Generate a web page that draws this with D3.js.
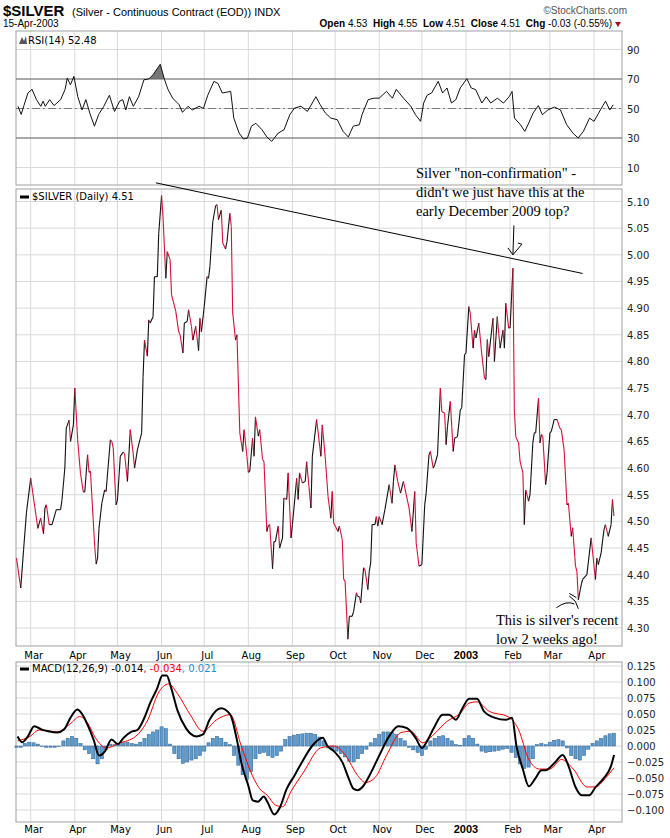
<!DOCTYPE html>
<html><head><meta charset="utf-8">
<script src="https://cdn.jsdelivr.net/npm/d3@7"></script>
<style>body{margin:0;background:#fff}</style>
</head><body><div id="chart"></div>
<script>
// price closes (date, close)
const priceDates = ["2002-02-19","2002-02-22","2002-02-24","2002-02-26","2002-03-01","2002-03-06","2002-03-08","2002-03-10","2002-03-11","2002-03-12","2002-03-14","2002-03-16","2002-03-19","2002-03-22","2002-03-23","2002-03-25","2002-03-26","2002-03-28","2002-03-29","2002-03-31",
"2002-04-01","2002-04-03","2002-04-05","2002-04-07","2002-04-08","2002-04-10","2002-04-11","2002-04-12","2002-04-15","2002-04-16","2002-04-17","2002-04-18","2002-04-20","2002-04-22","2002-04-23","2002-04-26","2002-04-27","2002-04-28","2002-04-30",
"2002-05-01","2002-05-03","2002-05-05","2002-05-06","2002-05-08","2002-05-10","2002-05-12","2002-05-13","2002-05-15","2002-05-18","2002-05-19","2002-05-20","2002-05-22","2002-05-23","2002-05-24","2002-05-26","2002-05-27","2002-05-29","2002-05-30",
"2002-06-01","2002-06-02","2002-06-04","2002-06-05","2002-06-07","2002-06-08","2002-06-11","2002-06-13","2002-06-14","2002-06-16","2002-06-17","2002-06-19","2002-06-20","2002-06-22","2002-06-23","2002-06-25","2002-06-27","2002-06-28","2002-06-29",
"2002-07-01","2002-07-03","2002-07-04","2002-07-05","2002-07-07","2002-07-09","2002-07-10","2002-07-11","2002-07-13","2002-07-14","2002-07-16","2002-07-17","2002-07-19","2002-07-20","2002-07-21","2002-07-23","2002-07-24","2002-07-26","2002-07-28","2002-07-29","2002-07-31",
"2002-08-01","2002-08-02","2002-08-04","2002-08-05","2002-08-06","2002-08-08","2002-08-09","2002-08-11","2002-08-12","2002-08-14","2002-08-15","2002-08-16","2002-08-18","2002-08-19","2002-08-20","2002-08-22","2002-08-23","2002-08-25","2002-08-26","2002-08-28","2002-08-29","2002-08-31",
"2002-09-01","2002-09-04","2002-09-05","2002-09-06","2002-09-08","2002-09-10","2002-09-11","2002-09-14","2002-09-15","2002-09-18","2002-09-21","2002-09-22","2002-09-24","2002-09-26","2002-09-28","2002-09-29","2002-09-30",
"2002-10-03","2002-10-04","2002-10-06","2002-10-07","2002-10-08","2002-10-10","2002-10-11","2002-10-13","2002-10-14","2002-10-16","2002-10-17","2002-10-18","2002-10-19","2002-10-21","2002-10-22","2002-10-24","2002-10-25","2002-10-26","2002-10-27","2002-10-29","2002-10-30","2002-10-31",
"2002-11-01","2002-11-03","2002-11-05","2002-11-08","2002-11-10","2002-11-11","2002-11-12","2002-11-14","2002-11-16","2002-11-18","2002-11-20","2002-11-22","2002-11-24","2002-11-26","2002-11-27","2002-11-29",
"2002-12-01","2002-12-03","2002-12-04","2002-12-06","2002-12-07","2002-12-09","2002-12-10","2002-12-12","2002-12-14","2002-12-15","2002-12-17","2002-12-18","2002-12-19","2002-12-21","2002-12-23","2002-12-24","2002-12-26","2002-12-28","2002-12-29","2002-12-31",
"2003-01-01","2003-01-03","2003-01-04","2003-01-06","2003-01-07","2003-01-08","2003-01-10","2003-01-12","2003-01-14","2003-01-15","2003-01-16","2003-01-17","2003-01-20","2003-01-21","2003-01-23","2003-01-24","2003-01-25","2003-01-27","2003-01-28","2003-01-29","2003-01-31",
"2003-02-01","2003-02-03","2003-02-04","2003-02-05","2003-02-07","2003-02-08","2003-02-10","2003-02-11","2003-02-12","2003-02-14","2003-02-15","2003-02-17","2003-02-18","2003-02-19","2003-02-21","2003-02-22","2003-02-23","2003-02-24","2003-02-26","2003-02-27",
"2003-03-01","2003-03-02","2003-03-04","2003-03-06","2003-03-08","2003-03-09","2003-03-11","2003-03-13","2003-03-14","2003-03-16","2003-03-17","2003-03-19","2003-03-20","2003-03-21","2003-03-23","2003-03-24","2003-03-27","2003-03-30",
"2003-04-02","2003-04-03","2003-04-04","2003-04-06","2003-04-08","2003-04-09","2003-04-11","2003-04-13","2003-04-14","2003-04-15"];
const priceClose = [4.431,4.375,4.447,4.516,4.581,4.487,4.506,4.477,4.525,4.531,4.494,4.494,4.522,4.522,4.54,4.60,4.675,4.69,4.65,4.681,
4.75,4.653,4.59,4.555,4.555,4.625,4.592,4.594,4.453,4.42,4.431,4.487,4.534,4.559,4.556,4.653,4.65,4.638,4.531,
4.54,4.622,4.63,4.627,4.575,4.672,4.628,4.60,4.634,4.666,4.772,4.84,4.81,4.878,4.872,4.884,4.959,4.959,5.04,
5.111,5.072,4.956,5.006,4.991,4.925,4.894,4.856,4.85,4.816,4.872,4.875,4.897,4.866,4.84,4.866,4.82,4.881,4.856,
4.903,4.959,4.956,4.978,5.062,5.092,5.094,5.066,5.084,5.022,5.011,5.025,5.078,5.053,4.891,4.84,4.85,4.666,4.631,4.672,4.622,
4.592,4.594,4.656,4.622,4.696,4.66,4.672,4.616,4.612,4.481,4.492,4.494,4.411,4.462,4.462,4.491,4.45,4.469,4.544,4.541,4.591,4.469,
4.494,4.581,4.541,4.591,4.572,4.575,4.612,4.525,4.622,4.691,4.622,4.681,4.622,4.547,4.506,4.556,4.497,
4.481,4.491,4.466,4.391,4.388,4.279,4.322,4.322,4.331,4.366,4.359,4.359,4.347,4.413,4.409,4.372,4.406,4.422,4.494,4.494,4.509,4.491,
4.509,4.494,4.522,4.569,4.534,4.575,4.606,4.575,4.553,4.575,4.55,4.525,4.481,4.556,4.459,4.416,
4.419,4.531,4.553,4.625,4.631,4.60,4.606,4.625,4.75,4.706,4.703,4.644,4.678,4.725,4.631,4.656,4.659,4.709,4.713,4.813,
4.816,4.903,4.891,4.825,4.859,4.844,4.872,4.816,4.769,4.766,4.841,4.809,4.881,4.80,4.884,4.853,4.825,4.859,4.825,4.909,4.863,
4.863,4.975,4.709,4.659,4.647,4.613,4.591,4.494,4.559,4.538,4.55,4.647,4.666,4.666,4.731,4.647,4.663,4.659,4.569,4.591,
4.666,4.669,4.691,4.691,4.675,4.672,4.634,4.531,4.534,4.472,4.488,4.416,4.406,4.353,4.381,4.391,4.40,4.469,
4.391,4.431,4.419,4.441,4.484,4.494,4.472,4.494,4.541,4.51];

// indicator series: time in months after 1 Mar 2002 (fraction of the month)
const rsiT = [-0.32,-0.24,-0.17,-0.07,0.03,0.13,0.23,0.28,0.33,0.43,0.53,0.68,0.78,0.83,0.90,0.98,1.07,1.17,1.26,1.35,1.46,1.56,1.68,1.81,1.93,2.05,2.12,2.19,2.27,2.36,2.48,2.60,2.71,2.81,2.97,3.07,3.15,3.26,3.41,3.49,3.62,3.72,3.88,3.98,4.08,4.22,4.31,4.41,4.60,4.67,4.79,4.89,4.98,5.07,5.17,5.31,5.42,5.53,5.68,5.81,5.94,6.05,6.20,6.35,6.55,6.65,6.77,6.90,7.05,7.18,7.30,7.41,7.55,7.61,7.75,7.88,8.0,8.17,8.31,8.40,8.57,8.74,8.85,8.97,9.04,9.12,9.22,9.37,9.47,9.57,9.67,9.77,9.87,10.02,10.12,10.22,10.36,10.46,10.56,10.71,10.85,10.98,11.05,11.11,11.26,11.37,11.47,11.58,11.71,11.81,11.95,12.10,12.24,12.38,12.52,12.64,12.76,12.90,13.0,13.15,13.27,13.37,13.45];
const rsiVal = [51.5,46,52,60.5,63,56,51.5,55,51.5,56,52,56,63,70.7,66,71.8,58,49,56,47,38,46,51.5,59,48,55,56,49,58,51.5,58,69.5,70,73,80,69.5,63,57,52.6,47.4,51.5,49,51.5,50,59,68.4,67,60.5,61.6,43.5,33.4,29.3,30,38,40,35.6,30.7,27.7,33.4,35.6,45.8,50.3,51.5,48,58,52.6,47,43.5,42.4,34.5,30.7,38,39,45.8,56,57,57,61.6,57,63,57,51.5,45.8,41.3,53.7,59,60.5,68.4,60.5,63.9,53.7,56,63.9,70.2,63.9,62.8,53.7,58,53.7,57,53.7,58,61.6,43.5,39,34.5,40.2,47,52,45.8,49,51,49,39,33.4,30,34.5,43.5,41.3,49,55,49,52.48];

const macdT = [-0.33,-0.21,-0.07,0.08,0.24,0.40,0.60,0.76,0.90,1.06,1.16,1.30,1.44,1.57,1.71,1.86,2.01,2.14,2.31,2.45,2.59,2.74,2.90,3.02,3.12,3.22,3.37,3.57,3.82,3.97,4.12,4.38,4.59,4.74,4.84,5.0,5.10,5.22,5.35,5.43,5.59,5.71,5.87,6.05,6.26,6.46,6.71,6.82,6.97,7.17,7.31,7.42,7.51,7.62,7.78,8.0,8.23,8.45,8.65,8.85,9.0,9.12,9.27,9.47,9.62,9.77,9.92,10.07,10.25,10.41,10.66,10.90,11.05,11.16,11.32,11.47,11.63,11.79,11.89,12.11,12.29,12.42,12.58,12.72,12.89,13.04,13.22,13.40,13.47];
const macdVal = [0.015,0.006,0.015,0.031,0.026,0.023,0.021,0.026,0.044,0.057,0.051,0.033,0.010,-0.015,-0.008,0.010,0.003,0.013,0.022,0.025,0.041,0.067,0.090,0.110,0.110,0.092,0.056,0.028,0.015,0.018,0.041,0.059,0.049,0.010,-0.026,-0.062,-0.085,-0.087,-0.079,-0.087,-0.107,-0.097,-0.067,-0.046,-0.021,0,0.013,0,-0.008,-0.026,-0.051,-0.067,-0.069,-0.064,-0.046,-0.015,0.015,0.031,0.028,0.013,-0.003,0.008,0.028,0.049,0.049,0.041,0.059,0.074,0.074,0.054,0.044,0.041,0.044,0,-0.036,-0.063,-0.051,-0.038,-0.038,-0.026,-0.014,-0.031,-0.064,-0.077,-0.077,-0.064,-0.051,-0.031,-0.014];
const signalT = [-0.33,-0.02,0.19,0.60,0.92,1.11,1.30,1.48,1.75,2.03,2.41,2.69,2.92,3.17,3.37,3.67,3.97,4.28,4.59,4.84,5.09,5.26,5.43,5.61,5.78,5.96,6.26,6.66,6.97,7.24,7.51,7.69,7.91,8.17,8.51,8.74,9.02,9.27,9.56,9.87,10.07,10.25,10.53,10.95,11.21,11.47,11.74,12.0,12.26,12.53,12.84,13.04,13.26,13.47];
const signalVal = [0.008,0.015,0.025,0.022,0.036,0.046,0.036,0.013,-0.003,0.004,0.015,0.041,0.082,0.097,0.082,0.049,0.023,0.041,0.049,0,-0.046,-0.067,-0.077,-0.092,-0.095,-0.072,-0.041,-0.003,0,-0.015,-0.046,-0.057,-0.049,-0.015,0.021,0.023,0.005,0.018,0.038,0.051,0.067,0.069,0.054,0.046,0.026,-0.021,-0.036,-0.036,-0.021,-0.036,-0.064,-0.064,-0.051,-0.034];
// histogram, evenly spaced from first to last day
const histVal = [-0.002,-0.002,0.004,0.006,0.005,0.003,-0.001,-0.002,-0.002,-0.002,-0.001,0.008,0.012,0.015,0.012,0.004,-0.006,-0.012,-0.020,-0.028,-0.020,-0.006,0.003,0.002,0.003,0.005,0.006,0.004,0.003,0.006,0.012,0.018,0.022,0.025,0.030,0.027,0.003,-0.012,-0.020,-0.027,-0.025,-0.022,-0.020,-0.015,-0.008,0.005,0.012,0.015,0.012,0.006,0.002,-0.015,-0.030,-0.045,-0.052,-0.040,-0.020,-0.012,-0.010,-0.015,-0.018,-0.015,-0.008,0.010,0.015,0.017,0.018,0.019,0.020,0.020,0.018,0.014,0.008,-0.003,-0.005,-0.008,-0.012,-0.017,-0.024,-0.025,-0.020,-0.012,-0.005,0.005,0.012,0.018,0.022,0.022,0.021,0.018,0.012,0.008,-0.002,-0.006,-0.010,-0.015,-0.005,0.008,0.012,0.015,0.016,0.012,0.008,0.002,0.001,0.012,0.016,0.012,0.003,-0.008,-0.010,-0.009,-0.008,-0.007,-0.005,-0.004,-0.010,-0.018,-0.028,-0.035,-0.033,-0.020,0.002,0.004,0.002,0.006,0.009,0.010,0.008,-0.003,-0.015,-0.020,-0.022,-0.015,-0.005,0.004,0.008,0.012,0.016,0.019,0.020];

const priceTicks = d3.range(4.30, 5.101, 0.05);
const rsiTicks = [90, 70, 50, 30, 10];
const macdTicks = d3.range(-0.100, 0.1251, 0.025);
const monthTicks = ["2002-03-01","2002-04-01","2002-05-01","2002-06-01","2002-07-01","2002-08-01","2002-09-01","2002-10-01","2002-11-01","2002-12-01","2003-01-01","2003-02-01","2003-03-01","2003-04-01"];
const trendline = [["2002-05-28", 5.135], ["2003-03-24", 4.965]];

const W = 670, H = 838, L = 16, R = 622;
const parse = d3.timeParse("%Y-%m-%d");
const base = new Date(2002, 2, 1);
function tDate(t) {
  const m = Math.floor(t), a = d3.timeMonth.offset(base, m), b = d3.timeMonth.offset(base, m + 1);
  return new Date(+a + (t - m) * (b - a));
}
const x = d3.scaleTime().domain([new Date(2002, 2, 1), new Date(2003, 3, 1)]).range([30.7, 594]);
const yR = d3.scaleLinear().domain([30, 70]).range([138, 79]);
const yP = d3.scaleLinear().domain([4.30, 5.10]).range([628, 201.5]);
const yM = d3.scaleLinear().domain([-0.100, 0.125]).range([810, 666]);

const svg = d3.select("#chart").append("svg").attr("width", W).attr("height", H)
  .style("font-family", "Verdana, 'DejaVu Sans', sans-serif");
const grid = "#dadada", frame = "#a0a0a0";
const months = monthTicks.map(parse);

function panel(top, bot, ticks, y, fmt) {
  const g = svg.append("g");
  g.selectAll(".v").data(months).join("line").attr("x1", d => x(d)).attr("x2", d => x(d))
    .attr("y1", top).attr("y2", bot).attr("stroke", grid);
  g.selectAll(".h").data(ticks).join("line").attr("x1", L).attr("x2", R)
    .attr("y1", d => y(d)).attr("y2", d => y(d)).attr("stroke", grid);
  g.selectAll("text").data(ticks).join("text").attr("x", R + 5).attr("y", d => y(d) + 4)
    .attr("font-size", 10).attr("fill", "#222").text(fmt);
  g.append("rect").attr("x", L).attr("y", top).attr("width", R - L).attr("height", bot - top)
    .attr("fill", "none").attr("stroke", frame);
  return g;
}

// header
svg.append("text").attr("x", 3).attr("y", 16).attr("font-size", 15).attr("font-weight", "bold")
  .attr("font-family", "'Liberation Sans Narrow', 'Liberation Sans', Arial").text("$SILVER");
svg.append("text").attr("x", 72).attr("y", 16).attr("font-size", 11)
  .attr("font-family", "'Liberation Sans Narrow', 'Liberation Sans', Arial").text("(Silver - Continuous Contract (EOD))  INDX");
svg.append("text").attr("x", 627).attr("y", 14).attr("font-size", 10).attr("text-anchor", "end").attr("fill", "#555")
  .attr("font-family", "'Liberation Sans', Arial").text("©StockCharts.com");
svg.append("text").attr("x", 3).attr("y", 27).attr("font-size", 10)
  .attr("font-family", "'Liberation Sans', Arial").text("15-Apr-2003");
const hdr = svg.append("text").attr("x", 612).attr("y", 27).attr("font-size", 10).attr("text-anchor", "end")
  .attr("font-family", "'Liberation Sans', Arial");
[["Open ", 1], ["4.53  ", 0], ["High ", 1], ["4.55  ", 0], ["Low ", 1], ["4.51  ", 0], ["Close ", 1], ["4.51  ", 0], ["Chg ", 1], ["-0.03 (-0.55%)", 0]]
  .forEach(([s, b]) => hdr.append("tspan").attr("font-weight", b ? "bold" : "normal").attr("xml:space", "preserve").text(s));
svg.append("path").attr("d", "M615,22 L621,22 L618,27 Z").attr("fill", "#a0102a");

// RSI panel
const rTop = 31, rBot = 185;
panel(rTop, rBot, rsiTicks, yR, d => d);
const rsi = rsiT.map((t, i) => ({ d: tDate(t), v: rsiVal[i] }));
svg.append("clipPath").attr("id", "over").append("rect").attr("x", L).attr("y", rTop).attr("width", R - L).attr("height", yR(70) - rTop);
svg.append("path").datum(rsi).attr("clip-path", "url(#over)").attr("fill", "#777")
  .attr("d", d3.area().x(d => x(d.d)).y0(yR(70)).y1(d => yR(d.v)));
[70, 30].forEach(v => svg.append("line").attr("x1", L).attr("x2", R).attr("y1", yR(v)).attr("y2", yR(v)).attr("stroke", "#666"));
svg.append("line").attr("x1", L).attr("x2", R).attr("y1", yR(50)).attr("y2", yR(50)).attr("stroke", "#777").attr("stroke-dasharray", "8,3,2,3");
svg.append("path").datum(rsi).attr("fill", "none").attr("stroke", "#111").attr("stroke-width", 1)
  .attr("d", d3.line().x(d => x(d.d)).y(d => yR(d.v)));
svg.append("path").attr("d", "M19,44 L22,37 L24,41 L26,36 L27,44 Z").attr("fill", "#555");
svg.append("text").attr("x", 28).attr("y", 44).attr("font-size", 10).text("RSI(14) 52.48");

// price panel
const pTop = 189, pBot = 646;
panel(pTop, pBot, priceTicks, yP, d => d3.format(".2f")(d));
const price = priceDates.map((s, i) => ({ d: parse(s), v: priceClose[i] }));
svg.append("g").selectAll("line").data(d3.pairs(price)).join("line")
  .attr("x1", d => x(d[0].d)).attr("y1", d => yP(d[0].v)).attr("x2", d => x(d[1].d)).attr("y2", d => yP(d[1].v))
  .attr("stroke", d => d[1].v >= d[0].v ? "#111" : "#d8103c").attr("stroke-width", 1.1);
svg.append("line").attr("x1", 20).attr("x2", 29).attr("y1", 197).attr("y2", 197).attr("stroke", "#000").attr("stroke-width", 3);
svg.append("text").attr("x", 32).attr("y", 200).attr("font-size", 10).text("$SILVER (Daily) 4.51");
svg.append("line").attr("x1", x(parse(trendline[0][0]))).attr("y1", yP(trendline[0][1]))
  .attr("x2", x(parse(trendline[1][0]))).attr("y2", yP(trendline[1][1])).attr("stroke", "#000");

// notes
const serif = "'Liberation Serif', 'Times New Roman', serif";
[["Silver \"non-confirmation\" -", 178], ["didn't we just have this at the", 197], ["early December 2009 top?", 216]]
  .forEach(([s, yy]) => svg.append("text").attr("x", 416).attr("y", yy).attr("font-family", serif).attr("font-size", 14.5).text(s));
[["This is silver's recent", 625], ["low 2 weeks ago!", 644]]
  .forEach(([s, yy]) => svg.append("text").attr("x", 496).attr("y", yy).attr("font-family", serif).attr("font-size", 14.5).text(s));
const ax = x(parse("2003-02-03"));
svg.append("path").attr("fill", "none").attr("stroke", "#000")
  .attr("d", `M${ax + 1},${yP(5.055)} L${ax},${yP(5.0)} M${ax - 5},${yP(5.013)} L${ax},${yP(5.0)} L${ax + 9},${yP(5.02)} L${ax + 5},${yP(5.022)}`);
const lx = x(parse("2003-03-21"));
svg.append("path").attr("fill", "none").attr("stroke", "#000")
  .attr("d", `M${lx - 22},${yP(4.338)} Q${lx - 12},${yP(4.352)} ${lx - 4},${yP(4.345)} M${lx - 9},${yP(4.36)} L${lx - 3},${yP(4.35)} L${lx},${yP(4.336)} M${lx - 9},${yP(4.365)} L${lx - 2},${yP(4.357)}`);

// month labels
function monthLabels(yy) {
  svg.append("g").selectAll("text").data(months).join("text")
    .attr("x", d => x(d) + (d.getMonth() === 0 ? 0 : 3)).attr("y", yy).attr("font-size", 10).attr("text-anchor", "middle")
    .attr("font-weight", d => d.getMonth() === 0 ? "bold" : "normal")
    .attr("font-family", d => d.getMonth() === 0 ? "'Liberation Sans', Arial" : null)
    .attr("font-size", d => d.getMonth() === 0 ? 11 : 10)
    .text(d => d.getMonth() === 0 ? d.getFullYear() : d3.timeFormat("%b")(d));
}
monthLabels(659);

// MACD panel
const mTop = 662, mBot = 822;
panel(mTop, mBot, macdTicks, yM, d => d3.format(".3f")(Math.abs(d) < 1e-9 ? 0 : d));
const hx = d3.scaleLinear().domain([0, histVal.length - 1]).range([+parse(priceDates[0]), +parse("2003-04-15")]);
svg.append("g").selectAll("rect").data(histVal).join("rect")
  .attr("x", (d, i) => x(new Date(hx(i))) - 1.6).attr("width", 3.2)
  .attr("y", d => yM(Math.max(0, d))).attr("height", d => Math.abs(yM(d) - yM(0)))
  .attr("fill", "#5b9bd0").attr("stroke", "#2c5f8e").attr("stroke-width", 0.5);
svg.append("path").datum(signalT.map((t, i) => ({ d: tDate(t), v: signalVal[i] })))
  .attr("fill", "none").attr("stroke", "#f00").attr("stroke-width", 1)
  .attr("d", d3.line().curve(d3.curveMonotoneX).x(d => x(d.d)).y(d => yM(d.v)));
svg.append("path").datum(macdT.map((t, i) => ({ d: tDate(t), v: macdVal[i] })))
  .attr("fill", "none").attr("stroke", "#000").attr("stroke-width", 2)
  .attr("d", d3.line().curve(d3.curveMonotoneX).x(d => x(d.d)).y(d => yM(d.v)));
svg.append("line").attr("x1", 20).attr("x2", 29).attr("y1", 669).attr("y2", 669).attr("stroke", "#000").attr("stroke-width", 3);
const mt = svg.append("text").attr("x", 32).attr("y", 672).attr("font-size", 10);
mt.append("tspan").text("MACD(12,26,9) -0.014");
mt.append("tspan").attr("fill", "#f00").text(", -0.034");
mt.append("tspan").attr("fill", "#1e90c8").text(", 0.021");
monthLabels(833);
</script></body></html>
